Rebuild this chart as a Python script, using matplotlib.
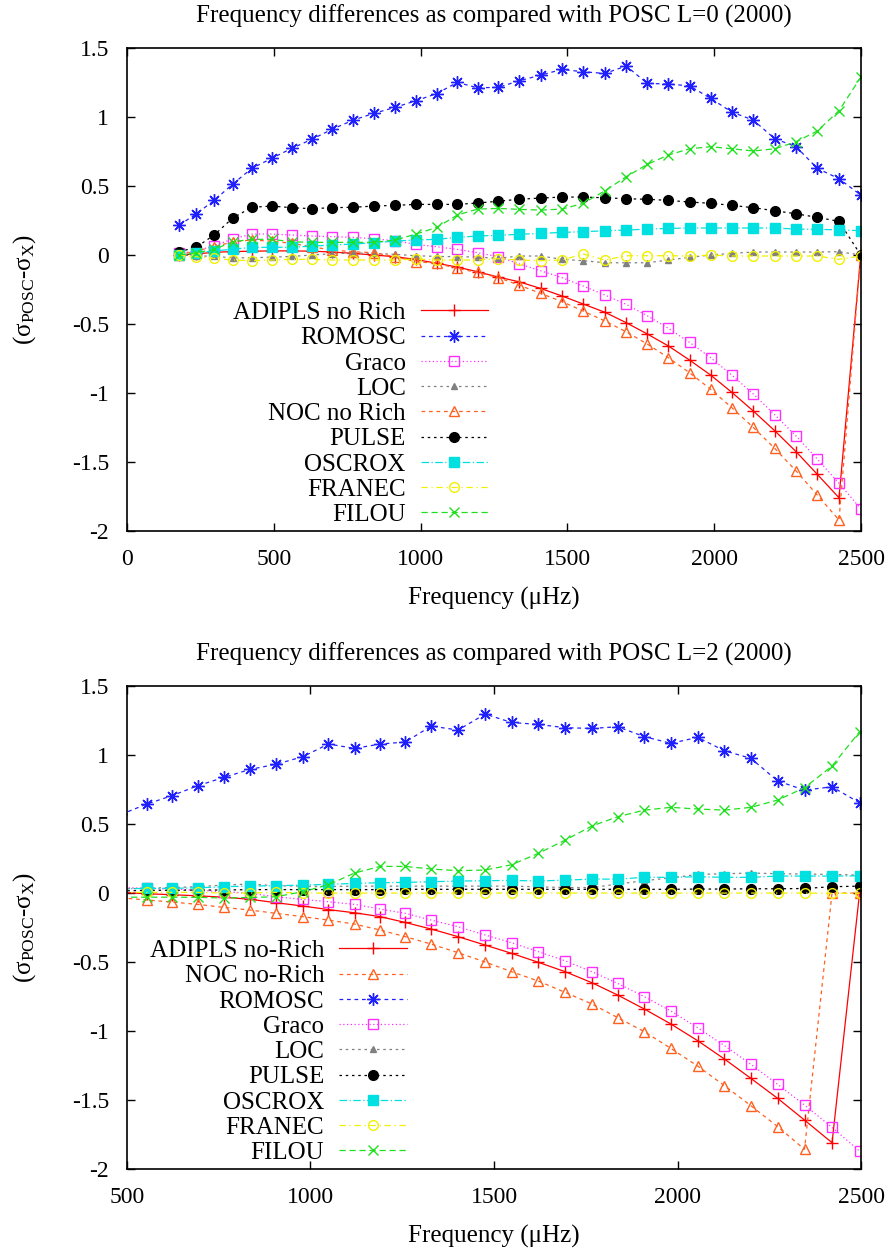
import matplotlib
matplotlib.use("Agg")
import matplotlib.pyplot as plt

plt.rcParams['font.family'] = ['Liberation Serif', 'DejaVu Serif']
plt.rcParams['mathtext.fontset'] = 'stix'
plt.rcParams['axes.unicode_minus'] = False

# ---- L=0 data ----
freq_l0 = [178, 235, 297, 360, 425, 493, 561, 629, 698, 771, 841, 913, 984, 1055, 1125, 1194, 1265,
           1334, 1409, 1482, 1554, 1628, 1700, 1772, 1844, 1916, 1988, 2060, 2133, 2206, 2279, 2351,
           2425, 2499]
adipls_l0 = [0.0, 0.008, 0.02, 0.025, 0.028, 0.03, 0.03, 0.028, 0.022, 0.012, 0.0, -0.012, -0.032,
             -0.06, -0.087, -0.121, -0.16, -0.193, -0.242, -0.297, -0.355, -0.415, -0.49, -0.572,
             -0.659, -0.761, -0.87, -0.995, -1.13, -1.273, -1.425, -1.589, -1.759, 0.0]
romosc_l0 = [0.217, 0.297, 0.396, 0.514, 0.628, 0.701, 0.773, 0.838, 0.911, 0.978, 1.027, 1.07, 1.118,
             1.17, 1.251, 1.212, 1.215, 1.262, 1.304, 1.345, 1.328, 1.316, 1.37, 1.244, 1.239, 1.226,
             1.135, 1.036, 0.978, 0.843, 0.785, 0.628, 0.553, 0.435]
graco_l0 = [0.012, 0.029, 0.068, 0.116, 0.152, 0.152, 0.145, 0.138, 0.133, 0.128, 0.118, 0.104, 0.077,
            0.06, 0.041, 0.017, -0.012, -0.063, -0.114, -0.164, -0.225, -0.29, -0.357, -0.44, -0.531,
            -0.633, -0.744, -0.87, -1.007, -1.157, -1.312, -1.478, -1.654, -1.838]
loc_l0 = [0.0, -0.005, -0.01, -0.02, -0.02, -0.015, -0.01, 0.0, 0.01, 0.015, 0.012, 0.005, -0.005,
          -0.01, -0.012, -0.015, -0.024, -0.007, -0.007, -0.031, -0.041, -0.056, -0.056, -0.056,
          -0.036, -0.017, 0.0, 0.012, 0.022, 0.022, 0.022, 0.022, 0.024, 0.0]
noc_l0 = [0.0, 0.03, 0.06, 0.096, 0.109, 0.1, 0.085, 0.06, 0.036, 0.024, 0.017, -0.012, -0.048, -0.06,
          -0.097, -0.126, -0.164, -0.217, -0.278, -0.338, -0.406, -0.478, -0.556, -0.645, -0.744,
          -0.853, -0.973, -1.106, -1.249, -1.401, -1.565, -1.739, -1.92, 0.0]
pulse_l0 = [0.024, 0.056, 0.145, 0.268, 0.346, 0.355, 0.343, 0.336, 0.343, 0.346, 0.355, 0.36, 0.367,
            0.367, 0.367, 0.377, 0.39, 0.404, 0.413, 0.42, 0.42, 0.415, 0.408, 0.404, 0.396, 0.384,
            0.375, 0.36, 0.343, 0.321, 0.299, 0.273, 0.244, 0.0]
oscrox_l0 = [0.0, 0.012, 0.031, 0.041, 0.056, 0.056, 0.056, 0.065, 0.072, 0.08, 0.089, 0.101, 0.109,
             0.114, 0.128, 0.138, 0.143, 0.15, 0.157, 0.164, 0.169, 0.176, 0.181, 0.188, 0.193, 0.196,
             0.196, 0.196, 0.196, 0.196, 0.188, 0.186, 0.183, 0.176]
franec_l0 = [0.0, -0.012, -0.024, -0.036, -0.041, -0.036, -0.031, -0.031, -0.036, -0.036, -0.036,
             -0.036, -0.029, -0.036, -0.036, -0.036, -0.026, -0.036, -0.041, -0.036, 0.007, -0.036,
             -0.005, -0.005, -0.005, -0.007, 0.0, -0.007, -0.007, -0.007, -0.007, -0.007, -0.031, -0.007]
filou_l0 = [0.0, 0.017, 0.041, 0.096, 0.114, 0.114, 0.096, 0.092, 0.092, 0.092, 0.092, 0.109, 0.152,
            0.2, 0.29, 0.333, 0.338, 0.331, 0.326, 0.333, 0.375, 0.466, 0.567, 0.657, 0.725, 0.77,
            0.785, 0.77, 0.754, 0.77, 0.821, 0.899, 1.046, 1.288]

# ---- L=2 data ----
freq_l2 = [484, 554, 622, 693, 764, 835, 906, 979, 1049, 1120, 1190, 1258, 1329, 1402, 1476, 1548,
           1621, 1694, 1767, 1837, 1910, 1982, 2055, 2128, 2200, 2273, 2346, 2421, 2496]
adipls_l2 = [0.005, -0.005, -0.012, -0.02, -0.03, -0.045, -0.07, -0.094, -0.12, -0.143, -0.171,
             -0.213, -0.261, -0.316, -0.377, -0.437, -0.502, -0.57, -0.65, -0.739, -0.841, -0.949,
             -1.07, -1.203, -1.343, -1.488, -1.645, -1.809, 0.0]
noc_l2 = [-0.035, -0.05, -0.065, -0.082, -0.104, -0.123, -0.147, -0.171, -0.196, -0.225, -0.268,
          -0.316, -0.37, -0.432, -0.5, -0.57, -0.638, -0.72, -0.804, -0.903, -1.005, -1.126, -1.254,
          -1.396, -1.541, -1.693, -1.857, 0.0, 0.0]
romosc_l2 = [0.57, 0.645, 0.705, 0.778, 0.838, 0.896, 0.933, 0.988, 1.08, 1.048, 1.08, 1.094, 1.21,
             1.181, 1.297, 1.236, 1.222, 1.198, 1.193, 1.205, 1.133, 1.085, 1.128, 1.031, 0.976, 0.812,
             0.746, 0.77, 0.654]
graco_l2 = [0.04, 0.034, 0.03, 0.02, 0.01, -0.002, -0.027, -0.046, -0.063, -0.082, -0.116, -0.147,
            -0.196, -0.244, -0.304, -0.36, -0.425, -0.491, -0.57, -0.655, -0.751, -0.855, -0.976,
            -1.106, -1.241, -1.386, -1.536, -1.698, -1.87]
loc_l2 = [0.03, 0.035, 0.04, 0.046, 0.058, 0.065, 0.053, 0.05, 0.048, 0.05, 0.05, 0.05, 0.05, 0.05,
          0.05, 0.05, 0.045, 0.04, 0.04, 0.065, 0.09, 0.11, 0.135, 0.14, 0.145, 0.14, 0.138, 0.135, 0.13]
pulse_l2 = [0.015, 0.02, 0.02, 0.022, 0.022, 0.025, 0.025, 0.025, 0.025, 0.025, 0.025, 0.027, 0.027,
            0.027, 0.027, 0.027, 0.027, 0.027, 0.027, 0.027, 0.027, 0.027, 0.029, 0.029, 0.031, 0.031,
            0.033, 0.046, 0.05]
oscrox_l2 = [0.03, 0.034, 0.034, 0.038, 0.046, 0.051, 0.053, 0.058, 0.063, 0.07, 0.075, 0.077, 0.082,
             0.087, 0.089, 0.092, 0.087, 0.094, 0.101, 0.101, 0.114, 0.114, 0.118, 0.114, 0.114, 0.123,
             0.123, 0.123, 0.125]
franec_l2 = [0.005, 0.005, 0.005, 0.005, 0.0, 0.0, 0.005, 0.0, 0.0, 0.0, 0.0, 0.0, 0.0, 0.0, 0.0, 0.0,
             0.0, 0.0, 0.0, 0.0, 0.0, 0.0, 0.0, 0.0, 0.0, 0.0, 0.0, -0.002, -0.002]
filou_l2 = [-0.03, -0.03, -0.03, -0.031, -0.036, -0.032, -0.027, 0.01, 0.06, 0.145, 0.193, 0.193,
            0.174, 0.162, 0.167, 0.205, 0.288, 0.384, 0.486, 0.553, 0.601, 0.621, 0.609, 0.601, 0.621,
            0.674, 0.763, 0.92, 1.169]

yticks = [-2, -1.5, -1, -0.5, 0, 0.5, 1, 1.5]
ytick_labels = ['-2', '-1.5', '-1', '-0.5', '0', '0.5', '1', '1.5']

# gnuplot-like styles per code
styles = {
    'adipls': dict(color='#ff0000', ls='-', marker='+', ms=8, mfc='none'),
    'romosc': dict(color='#2020ff', ls=(0, (3, 3)), marker=(8, 2, 0), ms=9, mfc='none'),
    'graco': dict(color='#ff30ff', ls=(0, (1, 2)), marker='s', ms=7, mfc='none'),
    'loc': dict(color='#808080', ls=(0, (2, 3)), marker='^', ms=5),
    'noc': dict(color='#ff6020', ls=(0, (3, 3)), marker='^', ms=7, mfc='none'),
    'pulse': dict(color='#000000', ls=(0, (2, 3)), marker='o', ms=7),
    'oscrox': dict(color='#00e0e0', ls=(0, (6, 2, 1, 2)), marker='s', ms=7),
    'franec': dict(color='#f0f000', ls=(0, (5, 3, 1, 3)), marker='o', ms=7, mfc='none'),
    'filou': dict(color='#20e020', ls=(0, (5, 3)), marker='x', ms=7),
}

fig = plt.figure(figsize=(8.93, 12.51), dpi=100)
ax1 = fig.add_axes([0.1422, 0.5755, 0.822, 0.3861])
ax2 = fig.add_axes([0.1422, 0.0655, 0.822, 0.3861])

top = [('adipls', 'ADIPLS no Rich', adipls_l0), ('romosc', 'ROMOSC', romosc_l0),
       ('graco', 'Graco', graco_l0), ('loc', 'LOC', loc_l0), ('noc', 'NOC no Rich', noc_l0),
       ('pulse', 'PULSE', pulse_l0), ('oscrox', 'OSCROX', oscrox_l0),
       ('franec', 'FRANEC', franec_l0), ('filou', 'FILOU', filou_l0)]
bottom = [('adipls', 'ADIPLS no-Rich', adipls_l2), ('noc', 'NOC no-Rich', noc_l2),
          ('romosc', 'ROMOSC', romosc_l2), ('graco', 'Graco', graco_l2), ('loc', 'LOC', loc_l2),
          ('pulse', 'PULSE', pulse_l2), ('oscrox', 'OSCROX', oscrox_l2),
          ('franec', 'FRANEC', franec_l2), ('filou', 'FILOU', filou_l2)]

panels = [(ax1, freq_l0, top, 'Frequency differences as compared with POSC L=0 (2000)',
           (0, 2500), (0.492, 0.01)),
          (ax2, freq_l2, bottom, 'Frequency differences as compared with POSC L=2 (2000)',
           (500, 2500), (0.381, 0.01))]

for ax, freq, series, title, xlim, anchor in panels:
    for key, label, vals in series:
        st = dict(styles[key])
        c = st.pop('color')
        ax.plot(freq, vals, color=c, lw=0.9, mec=c, mew=1.0, label=label, **st)
    ax.set_xlim(*xlim)
    ax.set_ylim(-2, 1.5)
    ax.set_yticks(yticks)
    ax.set_yticklabels(ytick_labels)
    ax.set_xticks(range(xlim[0], 2501, 500))
    ax.tick_params(direction='in', top=True, right=True, length=6, width=1.0,
                   labelsize=17, pad=13)
    for sp in ax.spines.values():
        sp.set_linewidth(1.2)
    ax.set_title(title, fontsize=18, pad=18)
    ax.set_xlabel('Frequency (\u03bcHz)', fontsize=18, labelpad=12)
    ax.set_ylabel(r'($\mathregular{\sigma_{POSC}}$-$\mathregular{\sigma_X}$)', fontsize=18,
                  labelpad=24)
    ax.legend(loc='lower right', bbox_to_anchor=anchor, frameon=False, markerfirst=False,
              fontsize=18, handlelength=2.7, handletextpad=0.6, labelspacing=0.11,
              borderpad=0, borderaxespad=0)

fig.savefig('out.png', dpi=100)
